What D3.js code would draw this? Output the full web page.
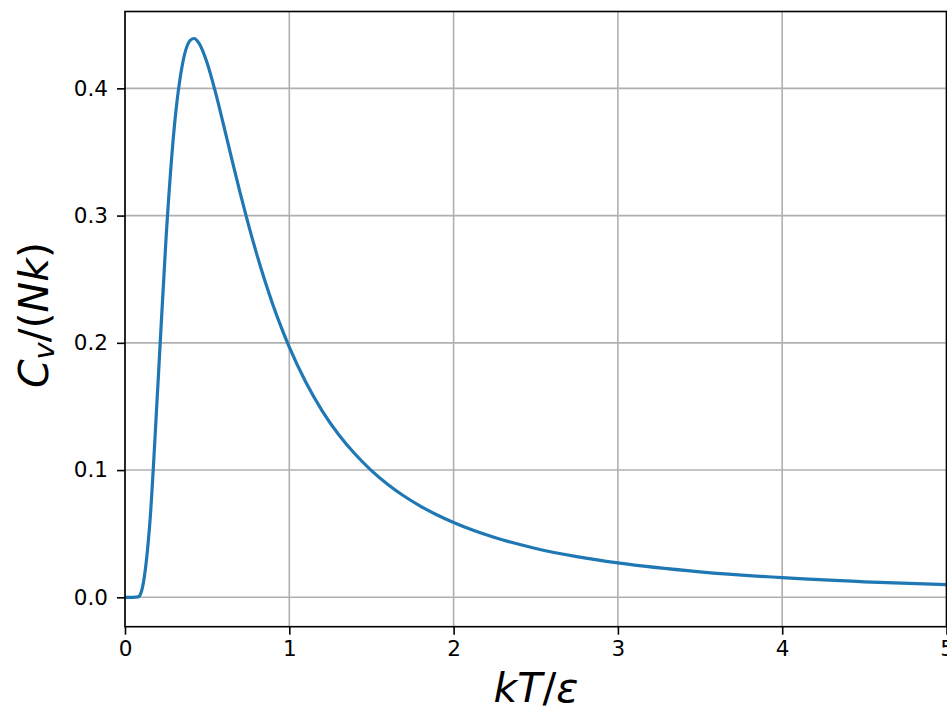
<!DOCTYPE html>
<html>
<head>
<meta charset="utf-8">
<script src="https://cdn.jsdelivr.net/npm/d3@7"></script>
<style>
  html, body { margin: 0; padding: 0; background: #fff; }
  svg { display: block; }
  text { font-family: "DejaVu Sans", sans-serif; }
</style>
</head>
<body>
<div id="chart"></div>
<script>
// Reduced temperature kT/ε and heat capacity Cv/(Nk) of a two-level system
const kT = [0.00, 0.05, 0.08, 0.10, 0.15, 0.20, 0.25, 0.30, 0.35, 0.40, 0.42, 0.45, 0.50,
            0.55, 0.60, 0.65, 0.70, 0.75, 0.80, 0.85, 0.90, 0.95, 1.00, 1.10, 1.20,
            1.30, 1.40, 1.50, 1.60, 1.70, 1.80, 1.90, 2.00, 2.25, 2.50, 2.75, 3.00,
            3.50, 4.00, 4.50, 5.00];
const cv = [0.0000, 0.0000, 0.0003, 0.0045, 0.0565, 0.1662, 0.2826, 0.3695, 0.4192, 0.4381, 0.4392, 0.4356, 0.4200,
            0.3972, 0.3712, 0.3444, 0.3183, 0.2935, 0.2705, 0.2493, 0.2300, 0.2125, 0.1966, 0.1692, 0.1466,
            0.1280, 0.1126, 0.0996, 0.0887, 0.0794, 0.0715, 0.0647, 0.0588, 0.0470, 0.0384, 0.0320, 0.0270,
            0.0200, 0.0154, 0.0122, 0.0099];
const xTicks = [0, 1, 2, 3, 4, 5];
const yTicks = [0.0, 0.1, 0.2, 0.3, 0.4];

const W = 947, H = 709;
const plot = { left: 125, right: 946.5, top: 11.5, bottom: 626.7 };

const svg = d3.select("#chart").append("svg")
  .attr("width", W).attr("height", H);

const x = d3.scaleLinear().domain([0, 5]).range([plot.left, plot.right]);
const y = d3.scaleLinear().domain([-0.0231, 0.4604]).range([plot.bottom, plot.top]);

// grid lines
const grid = svg.append("g");
grid.selectAll("line.gx").data(xTicks).join("line")
  .attr("x1", d => x(d)).attr("x2", d => x(d))
  .attr("y1", plot.top).attr("y2", plot.bottom)
  .attr("stroke", "#b0b0b0").attr("stroke-width", 1.6);
grid.selectAll("line.gy").data(yTicks).join("line")
  .attr("y1", d => y(d)).attr("y2", d => y(d))
  .attr("x1", plot.left).attr("x2", plot.right)
  .attr("stroke", "#b0b0b0").attr("stroke-width", 1.6);

// curve
svg.append("clipPath").attr("id", "clip")
  .append("rect").attr("x", plot.left).attr("y", plot.top)
  .attr("width", plot.right - plot.left).attr("height", plot.bottom - plot.top);

svg.append("path")
  .datum(kT.map((t, i) => [t, cv[i]]))
  .attr("clip-path", "url(#clip)")
  .attr("fill", "none")
  .attr("stroke", "#1f77b4")
  .attr("stroke-width", 3.2)
  .attr("stroke-linejoin", "round")
  .attr("stroke-linecap", "square")
  .attr("d", d3.line().x(d => x(d[0])).y(d => y(d[1])).curve(d3.curveMonotoneX));

// axes
const xAxis = d3.axisBottom(x).tickValues(xTicks).tickFormat(d3.format("d"))
  .tickSizeInner(8).tickSizeOuter(0).tickPadding(6);
const yAxis = d3.axisLeft(y).tickValues(yTicks).tickFormat(d3.format(".1f"))
  .tickSizeInner(8).tickSizeOuter(0).tickPadding(9);

const gx = svg.append("g").attr("transform", `translate(0,${plot.bottom})`).call(xAxis);
const gy = svg.append("g").attr("transform", `translate(${plot.left},0)`).call(yAxis);
[gx, gy].forEach(g => {
  g.select(".domain").remove();
  g.selectAll(".tick line").attr("stroke", "#000").attr("stroke-width", 1.6);
  g.selectAll(".tick text").attr("fill", "#000").style("font-size", "21.5px")
    .style("font-family", "'DejaVu Sans', sans-serif");
});

// frame
svg.append("rect")
  .attr("x", plot.left).attr("y", plot.top)
  .attr("width", plot.right - plot.left).attr("height", plot.bottom - plot.top)
  .attr("fill", "none").attr("stroke", "#000").attr("stroke-width", 1.6);

// x label: kT/ε
const xl = svg.append("text")
  .attr("x", 536)
  .attr("y", 702)
  .attr("text-anchor", "middle")
  .style("font-size", "41px");
xl.append("tspan").style("font-style", "italic").text("kT");
xl.append("tspan").text("/");
xl.append("tspan").style("font-style", "italic").text("ε");

// y label: C_v/(Nk)
const yl = svg.append("text")
  .attr("transform", "translate(48,315) rotate(-90)")
  .attr("text-anchor", "middle")
  .style("font-size", "41px");
yl.append("tspan").style("font-style", "italic").text("C");
yl.append("tspan").style("font-style", "italic").style("font-size", "29px").attr("dy", 6).text("v");
yl.append("tspan").attr("dy", -6).text("/(");
yl.append("tspan").style("font-style", "italic").text("Nk");
yl.append("tspan").text(")");
</script>
</body>
</html>
